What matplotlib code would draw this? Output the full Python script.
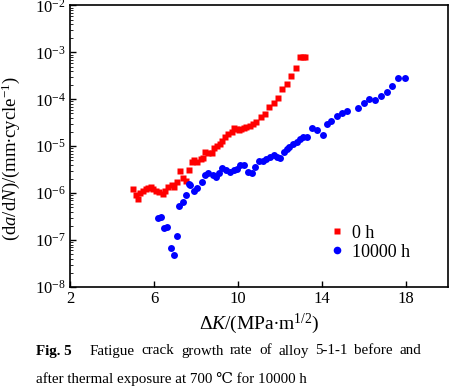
import numpy as np
import matplotlib
matplotlib.use('Agg')
import matplotlib.pyplot as plt
from matplotlib.ticker import LogLocator, NullFormatter

plt.rcParams['font.family'] = ['Liberation Serif', 'DejaVu Serif']
plt.rcParams['mathtext.fontset'] = 'custom'
plt.rcParams['mathtext.rm'] = 'Liberation Serif'
plt.rcParams['mathtext.it'] = 'Liberation Serif:italic'
plt.rcParams['mathtext.bf'] = 'Liberation Serif:bold'

# 0 h (as received)
dk_0h = [5.02, 5.15, 5.26, 5.34, 5.47, 5.61, 5.73, 5.85, 5.97, 6.10, 6.26, 6.42,
         6.54, 6.68, 6.84, 6.95, 7.11, 7.24, 7.39, 7.52, 7.65, 7.79, 7.90, 8.06,
         8.22, 8.31, 8.44, 8.58, 8.74, 8.85, 9.00, 9.13, 9.26, 9.37, 9.53, 9.69,
         9.80, 9.92, 10.05, 10.16, 10.28, 10.40, 10.55, 10.71, 10.87, 11.08, 11.27,
         11.47, 11.69, 11.90, 12.10, 12.32, 12.53, 12.77, 12.96, 13.09, 13.21]
log_rate_0h = [-5.91, -6.04, -6.13, -5.99, -5.95, -5.91, -5.88, -5.86, -5.91, -5.955,
               -5.98, -6.02, -5.955, -5.86, -5.83, -5.86, -5.76, -5.52, -5.67, -5.74,
               -5.51, -5.34, -5.29, -5.33, -5.27, -5.24, -5.12, -5.15, -5.14, -5.04,
               -4.99, -4.95, -4.88, -4.80, -4.74, -4.69, -4.62, -4.64, -4.655, -4.64,
               -4.62, -4.60, -4.57, -4.53, -4.48, -4.38, -4.31, -4.17, -4.085, -3.97,
               -3.79, -3.67, -3.50, -3.34, -3.10, -3.10, -3.10]

# 10000 h at 700 C
dk_10000h = [6.21, 6.34, 6.48, 6.64, 6.80, 6.95, 7.11, 7.20, 7.36, 7.52, 7.68, 7.71,
             7.90, 8.06, 8.27, 8.42, 8.58, 8.79, 8.94, 9.10, 9.26, 9.45, 9.61, 9.80,
             9.95, 10.11, 10.27, 10.47, 10.68, 10.81, 11.00, 11.19, 11.35, 11.54,
             11.69, 11.85, 12.01, 12.17, 12.32, 12.45, 12.64, 12.80, 12.96, 13.11,
             13.27, 13.50, 13.75, 14.03, 14.22, 14.45, 14.71, 14.95, 15.21, 15.72,
             16.00, 16.24, 16.53, 16.80, 17.08, 17.35, 17.62, 17.93]
log_rate_10000h = [-6.52, -6.50, -6.75, -6.72, -7.16, -7.31, -6.91, -6.27, -6.18,
                   -6.04, -5.81, -5.83, -5.95, -5.90, -5.76, -5.61, -5.565, -5.61,
                   -5.66, -5.565, -5.47, -5.51, -5.54, -5.51, -5.49, -5.39, -5.40,
                   -5.54, -5.56, -5.44, -5.32, -5.31, -5.28, -5.22, -5.19, -5.22,
                   -5.26, -5.12, -5.06, -5.01, -4.95, -4.90, -4.85, -4.80, -4.80,
                   -4.62, -4.66, -4.76, -4.52, -4.47, -4.35, -4.29, -4.24, -4.19,
                   -4.07, -4.00, -4.01, -3.93, -3.84, -3.72, -3.54, -3.55]

x_ticks = [2, 6, 10, 14, 18]
caption_words = ['Fatigue', 'crack', 'growth', 'rate', 'of', 'alloy', '5-1-1',
                 'before', 'and']
caption_line2 = 'after thermal exposure at 700 \u2103 for 10000 h'

fig = plt.figure(figsize=(4.5, 3.89), dpi=100)
ax = fig.add_axes([0.1556, 0.2622, 0.84, 0.7237])

ax.semilogy(dk_0h, 10 ** np.array(log_rate_0h), 's', color='#ff0000', ms=4.2,
            mec='none', label='0 h')
ax.semilogy(dk_10000h, 10 ** np.array(log_rate_10000h), 'o', color='#0000ff', ms=5,
            mec='none', label='10000 h')

ax.set_xlim(2, 20)
ax.set_ylim(1e-8, 1e-2)
ax.set_xticks(x_ticks)
ax.yaxis.set_major_locator(LogLocator(base=10, numticks=10))
ax.yaxis.set_minor_locator(LogLocator(base=10, subs=np.arange(2, 10), numticks=10))
ax.yaxis.set_minor_formatter(NullFormatter())
ax.tick_params(direction='in', labelsize=12, width=1, length=4, pad=3)
ax.tick_params(which='minor', direction='in', length=2, width=0.6)
ax.tick_params(top=False, right=False, which='both')
for s in ax.spines.values():
    s.set_linewidth(1.2)

ax.set_xlabel(r'$\Delta\mathit{K}$/(MPa$\bullet$m$^{1/2}$)', fontsize=14, labelpad=3)
ax.set_ylabel(r'(d$\mathit{a}$/d$\mathit{N}$)/(mm$\bullet$cycle$^{-1}$)', fontsize=13.5)
ax.yaxis.set_label_coords(-0.127, 0.455)

ax.legend(loc='lower right', bbox_to_anchor=(0.942, 0.036), frameon=False, fontsize=13,
          handletextpad=0.2, labelspacing=0.1, markerscale=1.1, handlelength=1.2)

# caption, first line justified
fig.canvas.draw()
renderer = fig.canvas.get_renderer()
y1 = 1 - 351 / 389
fig.text(36 / 450, y1, 'Fig. 5', fontsize=10.8, fontweight='bold', va='center')
x_start = 90
x_end = 421
texts = []
widths = []
for w in caption_words:
    t = fig.text(x_start / 450, y1, w, fontsize=10.8, va='center')
    texts.append(t)
    widths.append(t.get_window_extent(renderer).width)
gap = (x_end - x_start - sum(widths)) / (len(caption_words) - 1)
xp = x_start
for t, wd in zip(texts, widths):
    t.set_x(xp / 450)
    xp += wd + gap
fig.text(36 / 450, 1 - 379 / 389, caption_line2, fontsize=10.8, va='center')

fig.savefig('out.png', dpi=100)
